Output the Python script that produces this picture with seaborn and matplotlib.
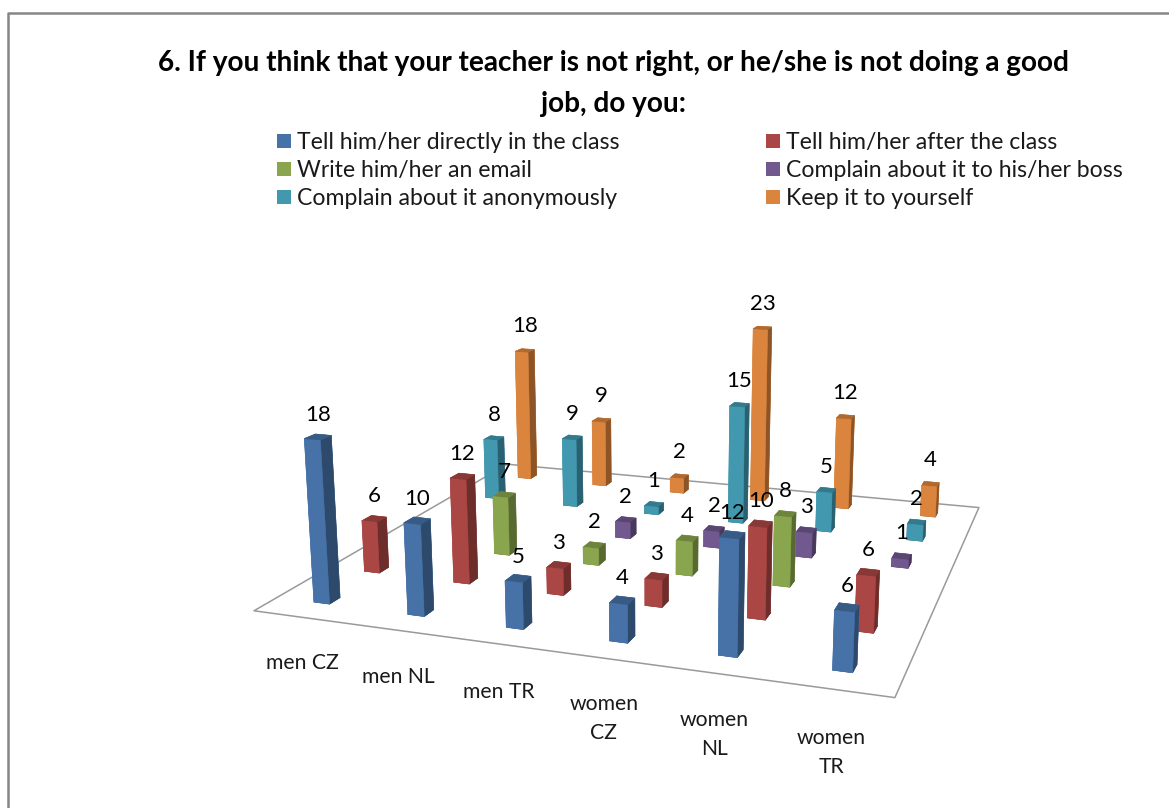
import numpy as np
import matplotlib
matplotlib.use("Agg")
import matplotlib.pyplot as plt
import seaborn as sns
from matplotlib.lines import Line2D
from matplotlib.patches import Patch
from mpl_toolkits.mplot3d import proj3d
from mpl_toolkits.mplot3d.art3d import Poly3DCollection

sns.set_theme(style="white")
plt.rcParams["font.family"] = ["Lato", "DejaVu Sans"]

TITLE = "6. If you think that your teacher is not right, or he/she is not doing a good\njob, do you:"
GROUPS = ["men CZ", "men NL", "men TR", "women\nCZ", "women\nNL", "women\nTR"]
SERIES = ["Tell him/her directly in the class", "Tell him/her after the class",
          "Write him/her an email", "Complain about it to his/her boss",
          "Complain about it anonymously", "Keep it to yourself"]

# 0 = no bar and no label in the original
directly  = [18, 10, 5, 4, 12, 6]
after     = [6, 12, 3, 3, 10, 6]
email     = [0, 7, 2, 4, 8, 0]
boss      = [0, 0, 2, 2, 3, 1]
anonymous = [8, 9, 1, 15, 5, 2]
keep      = [18, 9, 2, 23, 12, 4]
ROWS = [directly, after, email, boss, anonymous, keep]

palette = sns.color_palette(["#4672A8", "#AA4643", "#89A54E", "#71588F", "#4198AF", "#DB843D"])


def shades(c):
    # faces of bar3d: bottom, top, front, back, left, right
    c = np.array(c)
    return [c * .7, c * .8, c, c, c, c * .64]


fig = plt.figure(figsize=(11.69, 8.08), dpi=100)
ax = fig.add_axes([235.1 / 1169, -41.6 / 808, 818.1 / 1169, 818.1 / 808], projection="3d")
ax.computed_zorder = False
ax.set_xlim(0, 6); ax.set_ylim(0, 6); ax.set_zlim(0, 30)
ax.view_init(elev=13.55, azim=-70.98)
ax.set_proj_type("persp", focal_length=0.326)
ax.set_box_aspect((1, .938, .444))
ax.set_axis_off()


def label3d(x, y, z, s, dy=0, **kw):
    # projected by hand so the text can sit a fixed number of pixels off the bar
    tx, ty, _ = proj3d.proj_transform(x, y, z, ax.get_proj())
    ax.annotate(s, xy=(tx, ty), xytext=(0, dy), textcoords="offset pixels", ha="center",
                va="center", annotation_clip=False, zorder=200, **kw)


floor = Poly3DCollection([[(0, 0, 0), (6, 0, 0), (6, 6, 0), (0, 6, 0)]],
                         facecolor="white", edgecolor="#9a9a9a", linewidth=1.1, zorder=0)
ax.add_collection3d(floor)

dx, dy = .17, .2
for r, vals in enumerate(ROWS):
    for g, v in enumerate(vals):
        if v == 0:
            continue
        cols = shades(palette[r])
        ax.bar3d(g + .5 - dx / 2, r + .5 - dy / 2, 0, dx, dy, v, color=cols, edgecolor=cols,
                 linewidth=.4, shade=False, zorder=10 + (5 - r) * 10 + g)
        label3d(g + .5, r + .5, v, str(v), dy=22 + r * .4, fontsize=16, color="black")

for g, name in enumerate(GROUPS):
    z = -6.3 if "\n" in name else -5.2
    label3d(g + .5, 0, z, name, fontsize=15.2, linespacing=1.56, color="#1a1a1a")

fig.text(614 / 1169, 1 - 83.5 / 808, TITLE, ha="center", va="center", fontsize=20.2,
         fontweight="bold", color="black", linespacing=1.67)

order = [0, 2, 4, 1, 3, 5]
handles = [Patch(facecolor=palette[i], edgecolor="none", label=SERIES[i]) for i in order]
leg = fig.legend(handles=handles, ncol=2, frameon=False, loc="upper left",
                 bbox_to_anchor=(277 / 1169, 1 - 132 / 808), fontsize=16.6,
                 handlelength=.6, handleheight=.6, handletextpad=.26,
                 labelspacing=.31, columnspacing=6.35, borderpad=0, borderaxespad=0)
for t in leg.get_texts():
    t.set_color("#1a1a1a")

# chart frame: only left and top edges fall inside the picture
fig.add_artist(Line2D([8 / 1169, 8 / 1169, 1], [0, 1 - 13 / 808, 1 - 13 / 808],
                      color="#868686", lw=1.8))

fig.savefig("out.png", dpi=100)
